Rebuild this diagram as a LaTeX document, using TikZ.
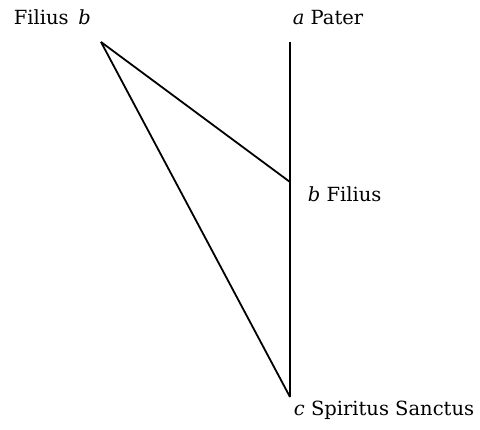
\documentclass[tikz,border=0pt]{standalone}
\usepackage{fontspec}
\setmainfont{DejaVu Serif}
\usetikzlibrary{positioning}
\tikzset{every picture/.style={/utils/exec={\fontsize{19.5}{22}\selectfont}}}

\begin{document}
\begin{tikzpicture}[x=1pt, y=-1pt, line width=1.8pt, every node/.style={inner sep=0pt, anchor=base west}]
        \useasboundingbox (0,0) rectangle (480,430);
        % Points
        \coordinate (a) at (290,42);
        \coordinate (b) at (290,182);
        \coordinate (c) at (290,397);
        \coordinate (bout) at (101,42);

        % Labels
        \node (boutlabel) at (13,25) {Filius\enspace\textit{b}};
        \node (alabel) at (292,25) {\textit{a} Pater};
        \node (blabel) at (307,202) {\textit{b} Filius};
        \node (clabel) at (293,416) {\textit{c} Spiritus Sanctus};

        % Edges
        \draw (a) -- (b) -- (c);
        \draw (bout) -- (b);
        \draw (bout) -- (c);
    \end{tikzpicture}
\end{document}
